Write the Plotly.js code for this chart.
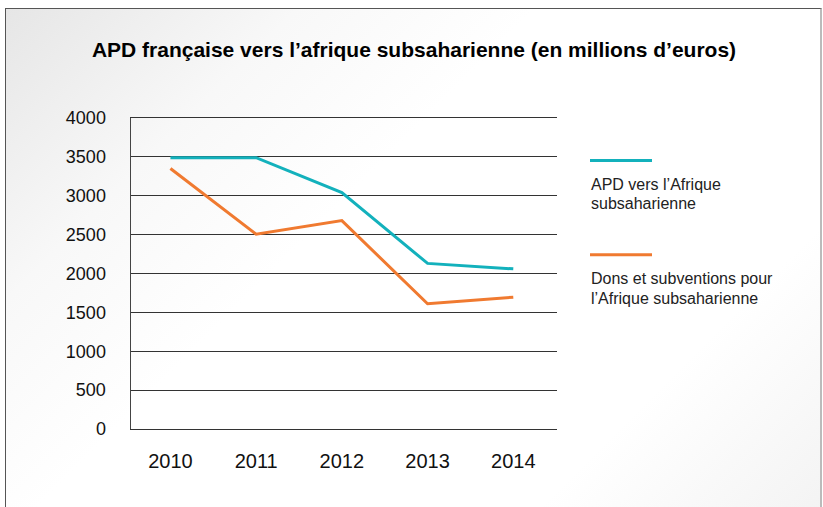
<!DOCTYPE html>
<html>
<head>
<meta charset="utf-8">
<script src="https://cdn.plot.ly/plotly-3.0.1.min.js"></script>
<style>
  html, body { margin: 0; padding: 0; width: 823px; height: 507px; background: #ffffff; overflow: hidden; }
  #frame {
    position: absolute; left: 5px; top: 8px; width: 814px; height: 510px;
    border-top: 1.5px solid #555; border-left: 1.5px solid #555; border-right: 2px solid #bbb;
    background: linear-gradient(135deg, #e6e6e6 0%, #f8f8f8 22%, #ffffff 40%, #ffffff 78%, #f3f3f3 100%);
  }
  #chart { position: absolute; left: 0; top: 0; width: 823px; height: 507px; }
</style>
</head>
<body>
<div id="frame"></div>
<div id="chart"></div>
<script>
const years = ["2010", "2011", "2012", "2013", "2014"];
const apdSeries = [3490, 3490, 3040, 2130, 2060];
const donsSeries = [3350, 2505, 2680, 1610, 1695];
const seriesNames = ["APD vers l’Afrique subsaharienne", "Dons et subventions pour l’Afrique subsaharienne"];
const legendLines = [["APD vers l’Afrique", "subsaharienne"], ["Dons et subventions pour", "l’Afrique subsaharienne"]];
const yTicks = [0, 500, 1000, 1500, 2000, 2500, 3000, 3500, 4000];
const titleText = "APD française vers l’afrique subsaharienne (en millions d’euros)";

const colors = ["#13b1bc", "#f07a30"];
const W = 823, H = 507;
const L = 131, R = 557, T = 118, B = 429.5;
const px = x => (x - L) / (R - L);
const py = y => (B - y) / (B - T);

const traces = [
  { x: years, y: apdSeries, name: seriesNames[0], type: "scatter", mode: "lines",
    line: { color: colors[0], width: 3 }, showlegend: false },
  { x: years, y: donsSeries, name: seriesNames[1], type: "scatter", mode: "lines",
    line: { color: colors[1], width: 3 }, showlegend: false }
];

const textFont = { family: "Liberation Sans, Arial, sans-serif", size: 16, color: "#222" };
const annotations = [];
const shapes = [];
const legendY = [160.5, 255];
for (let i = 0; i < 2; i++) {
  shapes.push({ type: "line", xref: "paper", yref: "paper",
    x0: px(590), x1: px(652), y0: py(legendY[i]), y1: py(legendY[i]),
    line: { color: colors[i], width: 3 } });
  legendLines[i].forEach((t, j) => {
    annotations.push({ text: t, xref: "paper", yref: "paper",
      x: px(589), y: py(legendY[i] + 24 + j * 19.5), xanchor: "left", yanchor: "middle",
      showarrow: false, font: textFont });
  });
}

const layout = {
  width: W, height: H,
  margin: { l: L, r: W - R, t: T, b: H - B, pad: 0 },
  paper_bgcolor: "rgba(0,0,0,0)",
  plot_bgcolor: "rgba(0,0,0,0)",
  title: { text: "<b>" + titleText + "</b>", xref: "container", yref: "container",
    x: 414 / W, xanchor: "center", y: 1 - 50 / H, yanchor: "middle",
    font: { family: "Liberation Sans, Arial, sans-serif", size: 21, color: "#000" } },
  xaxis: { type: "category", range: [-0.46, 4.51], showgrid: false, zeroline: false,
    showline: true, mirror: true, linecolor: "#333", linewidth: 1.2,
    tickfont: { family: "Liberation Sans, Arial, sans-serif", size: 20, color: "#111" },
    ticks: "", ticklabelstandoff: 14, fixedrange: true },
  yaxis: { range: [0, 4000], tickvals: yTicks, ticktext: yTicks.map(String),
    showgrid: true, gridcolor: "#333", gridwidth: 1, zeroline: false,
    showline: true, linecolor: "#444", linewidth: 1.5,
    tickfont: { family: "Liberation Sans, Arial, sans-serif", size: 18, color: "#111" },
    ticks: "", ticklabelstandoff: 20, fixedrange: true },
  shapes: shapes,
  annotations: annotations,
  showlegend: false
};

Plotly.newPlot("chart", traces, layout, { displayModeBar: false, staticPlot: true });
</script>
</body>
</html>
